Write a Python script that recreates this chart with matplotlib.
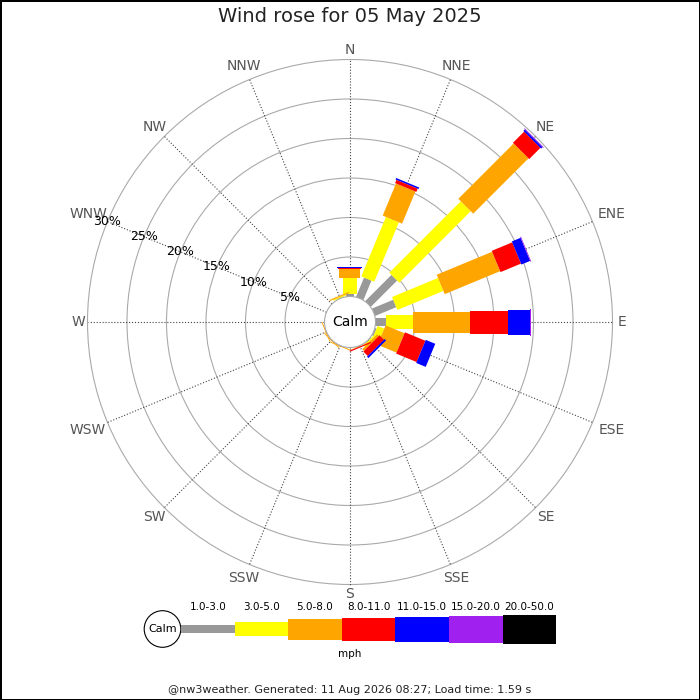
import numpy as np
import matplotlib.pyplot as plt
from matplotlib.patches import Polygon, Circle, Rectangle

# 风向与风速分档
directions = ['N', 'NNE', 'NE', 'ENE', 'E', 'ESE', 'SE', 'SSE',
              'S', 'SSW', 'SW', 'WSW', 'W', 'WNW', 'NW', 'NNW']
speed_bins = ['1.0-3.0', '3.0-5.0', '5.0-8.0', '8.0-11.0',
              '11.0-15.0', '15.0-20.0', '20.0-50.0']
bin_colors = ['#999999', '#ffff00', '#ffa500', '#ff0000',
              '#0000ff', '#a020f0', '#000000']

# 每个方向各风速档的百分比
freq = {
    'N':   [0.28, 2.0, 1.15, 0.13, 0.15, 0.0, 0.0],
    'NNE': [2.65, 8.15, 4.4, 0.45, 0.2, 0.0, 0.0],
    'NE':  [4.7, 12.8, 9.9, 2.0, 0.25, 0.1, 0.0],
    'ENE': [2.9, 6.3, 7.6, 2.8, 1.2, 0.1, 0.0],
    'E':   [1.3, 3.4, 7.2, 4.9, 2.8, 0.1, 0.0],
    'ESE': [0.2, 0.9, 2.6, 2.8, 1.3, 0.0, 0.0],
    'SE':  [0.1, 0.2, 0.3, 0.8, 0.25, 0.0, 0.0],
    'SSE': [0.0, 0.05, 0.05, 0.15, 0.0, 0.0, 0.0],
    'S':   [0.0, 0.0, 0.12, 0.0, 0.0, 0.0, 0.0],
    'SSW': [0.0, 0.0, 0.12, 0.0, 0.0, 0.0, 0.0],
    'SW':  [0.0, 0.0, 0.12, 0.0, 0.0, 0.0, 0.0],
    'WSW': [0.0, 0.0, 0.12, 0.0, 0.0, 0.0, 0.0],
    'W':   [0.0, 0.0, 0.12, 0.0, 0.0, 0.0, 0.0],
    'WNW': [0.0, 0.0, 0.0, 0.0, 0.0, 0.0, 0.0],
    'NW':  [0.0, 0.0, 0.0, 0.0, 0.0, 0.0, 0.0],
    'NNW': [0.05, 0.15, 0.15, 0.0, 0.0, 0.0, 0.0],
}
ring_values = [5, 10, 15, 20, 25, 30]

title = 'Wind rose for 05 May 2025'
footer = '@nw3weather. Generated: 11 Aug 2026 08:27; Load time: 1.59 s'

# 布局 (像素)
PX = 7.9                 # 每1%对应的像素
R0 = 25.5 / PX           # 静风圆半径
RMAX = 30
bar_px = [8, 14, 21, 23, 25, 27, 29]   # 各档柱宽
cx, cy = 350, 322

fig = plt.figure(figsize=(7, 7), dpi=100, edgecolor='black', linewidth=2)
ax = fig.add_axes([0, 0, 1, 1])
ax.set_xlim(-cx / PX, (700 - cx) / PX)
ax.set_ylim(-(700 - cy) / PX, cy / PX)
ax.set_aspect('equal')
ax.axis('off')

# 同心圆
for r in ring_values:
    ax.add_patch(Circle((0, 0), R0 + r, fill=False, ec='#aaaaaa', lw=0.8, zorder=1))

# 辐射线和方位标签
for i, d in enumerate(directions):
    th = np.deg2rad(i * 22.5)
    u = np.array([np.sin(th), np.cos(th)])
    ax.plot([R0 * u[0], (R0 + RMAX) * u[0]], [R0 * u[1], (R0 + RMAX) * u[1]],
            ls=':', color='#444444', lw=0.8, zorder=1)
    rl = (272 + (len(d) - 1) * 6.2 * abs(np.sin(th))) / PX
    ax.text(rl * u[0], rl * u[1], d, ha='center', va='center',
            fontsize=10, color='#555555')

# 百分比标签 (沿WNW方向)
th = np.deg2rad(292.5)
for r in ring_values:
    ax.text((R0 + r) * np.sin(th), (R0 + r) * np.cos(th), f'{r}%',
            ha='center', va='center', fontsize=9, color='black', zorder=3)

# 堆叠柱
for i, d in enumerate(directions):
    th = np.deg2rad(i * 22.5)
    u = np.array([np.sin(th), np.cos(th)])
    v = np.array([np.cos(th), -np.sin(th)])
    r1 = R0
    for k, val in enumerate(freq[d]):
        if val <= 0:
            continue
        r2 = r1 + val
        hw = bar_px[k] / 2 / PX
        pts = [r1 * u - hw * v, r2 * u - hw * v, r2 * u + hw * v, r1 * u + hw * v]
        ax.add_patch(Polygon(pts, closed=True, fc=bin_colors[k], ec='none', zorder=2))
        r1 = r2

# 中心静风圆
ax.add_patch(Circle((0, 0), R0, fc='white', ec='#aaaaaa', lw=0.8, zorder=4))
ax.text(0, 0, 'Calm', ha='center', va='center', fontsize=10, zorder=5)

fig.text(0.5, 1 - 17 / 700, title, ha='center', va='center', fontsize=14, color='#222222')
fig.text(0.5, 1 - 690 / 700, footer, ha='center', va='center', fontsize=8, color='#222222')

# 图例 (像素坐标)
lax = fig.add_axes([0, 0, 1, 1], zorder=-1)
lax.set_xlim(0, 700)
lax.set_ylim(700, 0)
lax.axis('off')
lx0, ly, seg = 181, 629, 53.6
lax.add_patch(Circle((162.5, ly), 18.3, fc='white', ec='black', lw=0.8))
lax.text(162.5, ly, 'Calm', ha='center', va='center', fontsize=8)
for k, lab in enumerate(speed_bins):
    x = lx0 + k * seg
    lax.add_patch(Rectangle((x, ly - bar_px[k] / 2), seg, bar_px[k],
                            fc=bin_colors[k], ec='none'))
    lax.text(x + seg / 2, 607, lab, ha='center', va='center', fontsize=7.5)
lax.text(350, 654, 'mph', ha='center', va='center', fontsize=7.5)

plt.savefig('out.png', dpi=100)
